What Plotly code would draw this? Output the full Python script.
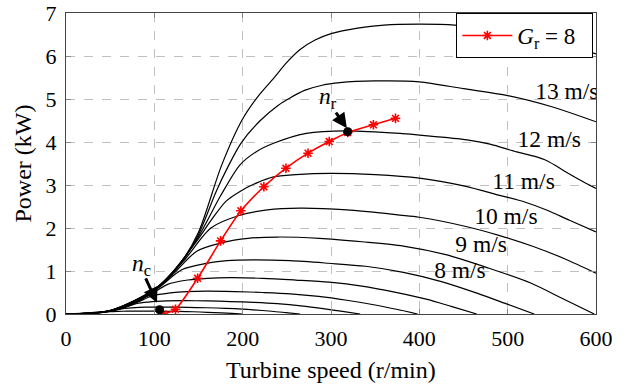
import plotly.graph_objects as go

# ---- data ----
wind_speeds = [14, 13, 12, 11, 10, 9, 8, 7, 6, 5, 4, 3]

n14 = [0, 50, 100, 130, 150, 176, 199, 217, 235, 250, 265, 282, 300, 330, 360, 400, 440, 480, 520, 560, 600]
p14 = [0, 0.08, 0.57, 1.2, 1.9, 3.45, 4.5, 5.05, 5.48, 5.85, 6.15, 6.37, 6.52, 6.65, 6.72, 6.74, 6.72, 6.62, 6.46, 6.27, 6.05]

n13 = [0, 50, 100, 130, 150, 170, 184, 198, 220, 240, 254, 270, 290, 310, 350, 400, 450, 500, 550, 600]
p13 = [0, 0.08, 0.57, 1.18, 1.85, 2.85, 3.45, 3.97, 4.5, 4.85, 5.03, 5.2, 5.32, 5.38, 5.42, 5.40, 5.24, 5.08, 4.82, 4.47]

n12 = [0, 50, 100, 127, 150, 175, 197, 215, 235, 272, 318, 378, 400, 454, 480, 510, 530, 545, 556, 567, 585, 600]
p12 = [0, 0.08, 0.57, 1.12, 1.8, 2.75, 3.47, 3.77, 3.97, 4.20, 4.26, 4.20, 4.16, 4.05, 3.95, 3.77, 3.67, 3.56, 3.43, 3.29, 3.08, 2.92]

n11 = [0, 50, 100, 117, 146, 165, 181, 197, 216, 235, 260, 299, 350, 400, 450, 491, 520, 544, 570, 600]
p11 = [0, 0.08, 0.57, 0.89, 1.64, 2.2, 2.62, 2.85, 3.05, 3.19, 3.24, 3.27, 3.24, 3.16, 2.98, 2.76, 2.6, 2.42, 2.18, 1.91]

n10 = [0, 50, 100, 133, 164, 196, 228, 265, 318, 378, 400, 454, 490, 529, 565, 600]
p10 = [0, 0.08, 0.56, 1.23, 2.0, 2.29, 2.42, 2.46, 2.42, 2.30, 2.25, 2.03, 1.83, 1.57, 1.28, 0.95]

n9 = [0, 50, 74, 96, 120, 148, 177, 206, 239, 287, 335, 382, 430, 478, 526, 562, 598]
p9 = [0, 0.08, 0.24, 0.48, 0.90, 1.46, 1.66, 1.76, 1.79, 1.76, 1.68, 1.58, 1.38, 1.07, 0.72, 0.36, 0]

n8 = [0, 50, 66, 85, 106, 131, 157, 182, 212, 254, 297, 339, 382, 424, 466, 498, 530]
p8 = [0, 0.07, 0.17, 0.34, 0.63, 1.03, 1.17, 1.24, 1.26, 1.24, 1.18, 1.11, 0.97, 0.76, 0.48, 0.24, 0]

n7 = [0, 37, 58, 74, 93, 115, 138, 160, 186, 223, 260, 298, 335, 372, 409, 437, 465]
p7 = [0, 0.03, 0.11, 0.23, 0.42, 0.69, 0.79, 0.83, 0.845, 0.83, 0.79, 0.74, 0.65, 0.51, 0.34, 0.17, 0]

n6 = [0, 32, 49, 64, 80, 99, 118, 137, 159, 191, 223, 254, 286, 318, 350, 374, 398]
p6 = [0, 0.02, 0.07, 0.14, 0.265, 0.43, 0.49, 0.52, 0.53, 0.52, 0.50, 0.47, 0.41, 0.32, 0.21, 0.11, 0]

n5 = [0, 41, 53, 67, 82, 98, 114, 133, 160, 186, 213, 239, 266, 293, 313, 333]
p5 = [0, 0.04, 0.08, 0.155, 0.25, 0.29, 0.305, 0.31, 0.305, 0.29, 0.27, 0.24, 0.19, 0.12, 0.06, 0]

n4 = [0, 33, 53, 66, 78, 91, 106, 127, 148, 170, 191, 212, 233, 249, 265]
p4 = [0, 0.02, 0.08, 0.13, 0.15, 0.158, 0.16, 0.158, 0.15, 0.14, 0.123, 0.096, 0.064, 0.032, 0]

n3 = [0, 25, 40, 50, 59, 69, 80, 96, 112, 128, 144, 160, 176, 188, 200]
p3 = [0, 0.009, 0.033, 0.055, 0.062, 0.066, 0.067, 0.066, 0.063, 0.059, 0.052, 0.04, 0.027, 0.013, 0]

# red operating curve G_r = 8
red_n = [110, 124, 149, 175, 198, 224, 249, 274, 298, 319, 348, 373]
red_p = [0.0, 0.11, 0.83, 1.70, 2.40, 2.96, 3.39, 3.74, 4.01, 4.22, 4.40, 4.55]

# marked points
nc_point = (106, 0.1)
nr_point = (319, 4.24)

# wind-speed labels
label_text = ["13 m/s", "12 m/s", "11 m/s", "10 m/s", "9 m/s", "8 m/s"]
label_n = [567, 547, 518, 498, 470, 446]
label_p = [5.13, 4.03, 3.04, 2.23, 1.57, 0.98]

x_ticks = [0, 100, 200, 300, 400, 500, 600]
y_ticks = [0, 1, 2, 3, 4, 5, 6, 7]

FONT = "Liberation Serif"
FS = 22
TFS = 24
LFS = 23.5

curves = [(n14, p14), (n13, p13), (n12, p12), (n11, p11), (n10, p10), (n9, p9),
          (n8, p8), (n7, p7), (n6, p6), (n5, p5), (n4, p4), (n3, p3)]

fig = go.Figure()
for (xs, ys), v in zip(curves, wind_speeds):
    fig.add_trace(go.Scatter(x=xs, y=ys, mode="lines", showlegend=False,
                             line=dict(color="black", width=1.2, shape="spline", smoothing=0.8),
                             name=f"{v} m/s", hoverinfo="skip"))

fig.add_trace(go.Scatter(x=red_n, y=red_p, mode="lines+markers",
                         name="<i>G</i><sub>r</sub> = 8&nbsp;&nbsp;",
                         line=dict(color="red", width=1.6, shape="spline", smoothing=0.6),
                         marker=dict(symbol="asterisk", size=8, color="red",
                                     line=dict(color="red", width=1.6))))

fig.add_trace(go.Scatter(x=[nc_point[0], nr_point[0]], y=[nc_point[1], nr_point[1]],
                         mode="markers", showlegend=False,
                         marker=dict(color="black", size=9)))

fig.add_trace(go.Scatter(x=label_n, y=label_p, text=label_text, mode="text",
                         showlegend=False, textposition="middle center",
                         textfont=dict(family=FONT, size=LFS, color="black")))

# arrows
fig.add_annotation(x=103, y=0.26, ax=-12, ay=-26, text="", showarrow=True,
                   arrowhead=2, arrowsize=1, arrowwidth=3, arrowcolor="black")
fig.add_annotation(x=318, y=4.32, ax=-12, ay=-17, text="", showarrow=True,
                   arrowhead=2, arrowsize=1, arrowwidth=3, arrowcolor="black")
fig.add_annotation(x=86, y=1.14, text="<i>n</i><sub>c</sub>", showarrow=False,
                   font=dict(family=FONT, size=LFS, color="black"))
fig.add_annotation(x=297, y=5.02, text="<i>n</i><sub>r</sub>", showarrow=False,
                   font=dict(family=FONT, size=LFS, color="black"))

# axis titles as paper annotations
fig.add_annotation(x=0.5, y=-0.186, xref="paper", yref="paper", yanchor="middle",
                   text="Turbine speed (r/min)", showarrow=False,
                   font=dict(family=FONT, size=TFS, color="black"))
fig.add_annotation(x=-44 / 530, y=0.5, xref="paper", yref="paper", xanchor="center",
                   text="Power (kW)", textangle=-90, showarrow=False,
                   font=dict(family=FONT, size=TFS, color="black"))

axis_common = dict(showline=True, linecolor="#444444", linewidth=1.3, mirror="ticks",
                   ticks="inside", ticklen=5, tickcolor="#888888", tickwidth=1,
                   showgrid=True, gridcolor="#c0c0c0", gridwidth=1, griddash="dash",
                   zeroline=False, automargin=False,
                   tickfont=dict(family=FONT, size=FS, color="black"))

fig.update_xaxes(range=[0, 600], tickvals=x_ticks, ticklabelstandoff=4, **axis_common)
fig.update_yaxes(range=[0, 7], tickvals=y_ticks, ticklabelstandoff=4, **axis_common)

fig.update_layout(width=626, height=387, margin=dict(l=66, r=30, t=13, b=73),
                  font=dict(family=FONT, size=FS, color="black"),
                  plot_bgcolor="white", paper_bgcolor="white",
                  legend=dict(x=0.995, y=1.0, xanchor="right", yanchor="top",
                              bgcolor="white", bordercolor="black", borderwidth=1,
                              itemwidth=50, tracegroupgap=0,
                              font=dict(family=FONT, size=23, color="black")))

fig.write_html("out.html", config={"displayModeBar": False},
               post_script="document.body.style.margin='0';document.body.style.overflow='hidden';")
